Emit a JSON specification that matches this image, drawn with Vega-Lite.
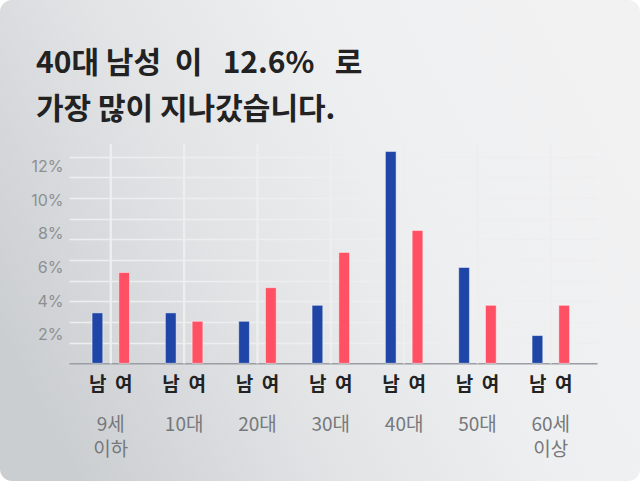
{
  "$schema": "https://vega.github.io/schema/vega-lite/v6.json",
  "description": "Share of passers-by by age group and sex",
  "autosize": "none",
  "padding": 0,
  "width": 640,
  "height": 481,
  "background": "#ffffff",
  "title": {
    "text": ["40대 남성\u00a0\u00a0이\u00a0\u00a0 12.6%\u00a0\u00a0 로", "가장 많이 지나갔습니다."],
    "anchor": "start",
    "frame": "group",
    "dx": 36,
    "offset": -125,
    "baseline": "top",
    "font": "Noto Sans CJK KR",
    "fontSize": 30,
    "fontWeight": "bold",
    "color": "#222222",
    "lineHeight": 46
  },
  "data": {
    "values": [
      {"group": "9세 이하", "sex": "남", "share": 3.0},
      {"group": "9세 이하", "sex": "여", "share": 5.4},
      {"group": "10대", "sex": "남", "share": 3.0},
      {"group": "10대", "sex": "여", "share": 2.5},
      {"group": "20대", "sex": "남", "share": 2.5},
      {"group": "20대", "sex": "여", "share": 4.5},
      {"group": "30대", "sex": "남", "share": 3.45},
      {"group": "30대", "sex": "여", "share": 6.6},
      {"group": "40대", "sex": "남", "share": 12.6},
      {"group": "40대", "sex": "여", "share": 7.9},
      {"group": "50대", "sex": "남", "share": 5.7},
      {"group": "50대", "sex": "여", "share": 3.45},
      {"group": "60세 이상", "sex": "남", "share": 1.65},
      {"group": "60세 이상", "sex": "여", "share": 3.45}
    ]
  },
  "encoding": {
    "x": {
      "field": "group",
      "type": "nominal",
      "scale": {
        "domain": ["9세 이하", "10대", "20대", "30대", "40대", "50대", "60세 이상"],
        "range": [69, 597],
        "paddingInner": 0,
        "paddingOuter": 0.1,
        "align": 0.35
      }
    },
    "y": {
      "field": "share",
      "type": "quantitative",
      "scale": {"domain": [0, 13.05], "range": [363.3, 144], "nice": false}
    }
  },
  "layer": [
    {
      "mark": {"type": "rule", "color": "#eeeef0", "strokeWidth": 2},
      "encoding": {
        "x": {"field": "group", "type": "nominal", "axis": null},
        "y": {"datum": 0, "type": "quantitative", "axis": null},
        "y2": {"datum": 13.05}
      }
    },
    {
      "mark": {"type": "bar"},
      "encoding": {
        "x": {
          "field": "group",
          "type": "nominal",
          "axis": {
            "orient": "bottom",
            "offset": -117.7,
            "title": null,
            "labelExpr": "'남\u00a0\u00a0여'",
            "labelFont": "Noto Sans CJK KR",
            "labelFontSize": 19,
            "labelFontWeight": "bold",
            "labelColor": "#222222",
            "labelAngle": 0,
            "labelPadding": 12,
            "ticks": false,
            "tickSize": 0,
            "domainColor": "#9a9da1",
            "domainWidth": 1.5,
            "grid": false
          }
        },
        "xOffset": {
          "field": "sex",
          "type": "nominal",
          "scale": {"domain": ["남", "여"], "paddingInner": 0.6, "paddingOuter": 0.67}
        },
        "y": {
          "field": "share",
          "type": "quantitative",
          "axis": {
            "orient": "left",
            "offset": -69,
            "title": null,
            "values": [2, 4, 6, 8, 10, 12],
            "labelExpr": "datum.value + '%'",
            "labelFont": "Inter",
            "labelFontSize": 16,
            "labelColor": "#8d8f92",
            "labelPadding": 6,
            "labelOffset": 5,
            "domain": false,
            "ticks": false,
            "tickSize": 0,
            "grid": false
          }
        },
        "color": {
          "field": "sex",
          "type": "nominal",
          "scale": {"domain": ["남", "여"], "range": ["#1f46a6", "#ff5064"]},
          "legend": null
        }
      }
    },
    {
      "mark": {"type": "bar", "fill": null, "stroke": "#ffffff", "strokeOpacity": 0.45, "strokeWidth": 1},
      "encoding": {
        "x": {
          "field": "group",
          "type": "nominal",
          "axis": {
            "orient": "bottom",
            "offset": -117.7,
            "title": null,
            "labelExpr": "split(datum.label, ' ')",
            "labelFont": "Noto Sans CJK KR",
            "labelFontSize": 19,
            "labelColor": "#76787b",
            "labelLineHeight": 25,
            "labelAngle": 0,
            "labelPadding": 52,
            "domain": false,
            "ticks": false,
            "tickSize": 0,
            "grid": false
          }
        },
        "xOffset": {"field": "sex", "type": "nominal"},
        "y": {
          "field": "share",
          "type": "quantitative",
          "axis": {
            "orient": "left",
            "offset": -69,
            "title": null,
            "values": [1.23, 2.46, 3.69, 4.92, 6.15, 7.38, 8.61, 9.84, 11.07, 12.3],
            "labels": false,
            "domain": false,
            "ticks": false,
            "tickSize": 0,
            "grid": true,
            "gridColor": "#eeeef0",
            "gridWidth": 1.6
          }
        }
      }
    }
  ],
  "resolve": {"axis": {"x": "independent", "y": "independent"}},
  "config": {
    "view": {
      "stroke": null,
      "cornerRadius": 12,
      "fill": {
        "gradient": "linear",
        "x1": 0,
        "y1": 0.7,
        "x2": 1,
        "y2": 0.3,
        "stops": [
          {"offset": 0, "color": "#cbced1"},
          {"offset": 0.35, "color": "#e1e3e5"},
          {"offset": 0.65, "color": "#eeeff0"},
          {"offset": 1, "color": "#f2f2f3"}
        ]
      }
    }
  }
}
